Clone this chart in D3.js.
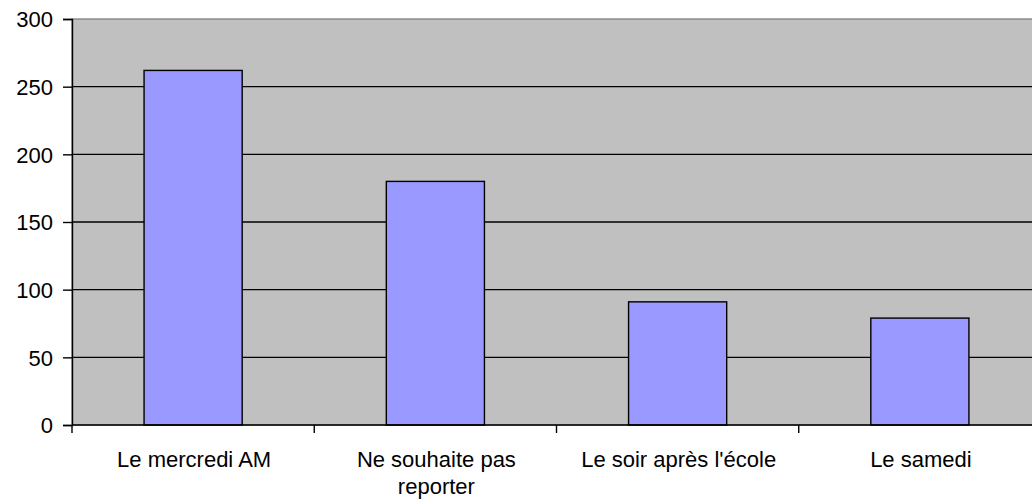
<!DOCTYPE html>
<html>
<head>
<meta charset="utf-8">
<script src="https://cdn.jsdelivr.net/npm/d3@7"></script>
<style>
  body { margin: 0; background: #fff; }
  text { font-family: "Liberation Sans", Arial, sans-serif; fill: #000; }
</style>
</head>
<body>
<script>
const categories = ["Le mercredi AM", "Ne souhaite pas reporter", "Le soir après l'école", "Le samedi"];
const values = [262, 180, 91, 79];
const yTicks = [0, 50, 100, 150, 200, 250, 300];

const width = 1032, height = 502;
const margin = { top: 19, left: 72, bottom: 77 };
const plotRight = 1041;  // the plot area runs a little past the window edge
const fontSize = 22;

const svg = d3.select("body").append("svg")
    .attr("width", width)
    .attr("height", height);

const x = d3.scaleBand()
    .domain(categories)
    .range([margin.left, plotRight])
    .padding(0);

const y = d3.scaleLinear()
    .domain([0, 300])
    .range([height - margin.bottom, margin.top]);

const barWidth = x.bandwidth() * 0.405;

// plot background
svg.append("rect")
    .attr("x", margin.left)
    .attr("y", y(300))
    .attr("width", plotRight - margin.left)
    .attr("height", y(0) - y(300))
    .attr("fill", "#c0c0c0")
    .attr("stroke", "#808080")
    .attr("stroke-width", 1.3);

// gridlines
svg.append("g")
  .selectAll("line")
  .data(yTicks.filter(d => d > 0 && d < 300))
  .enter().append("line")
    .attr("x1", margin.left)
    .attr("x2", plotRight)
    .attr("y1", d => y(d))
    .attr("y2", d => y(d))
    .attr("stroke", "#000")
    .attr("stroke-width", 1.3);

// bars
svg.append("g")
  .selectAll("rect")
  .data(categories.map((c, i) => ({ c, v: values[i] })))
  .enter().append("rect")
    .attr("x", d => x(d.c) + x.bandwidth() / 2 - barWidth / 2)
    .attr("y", d => y(d.v))
    .attr("width", barWidth)
    .attr("height", d => y(0) - y(d.v))
    .attr("fill", "#9999ff")
    .attr("stroke", "#000")
    .attr("stroke-width", 1.4);

// y axis
let yAxis = svg.append("g")
    .attr("transform", `translate(${margin.left},0)`)
    .call(d3.axisLeft(y).tickValues(yTicks).tickSize(9).tickPadding(10));
yAxis.selectAll("text").style("font-size", fontSize + "px").attr("dy", "0.36em");
yAxis.select(".domain").attr("stroke-width", 1.4);
yAxis.selectAll(".tick line").attr("stroke-width", 1.4);

// x axis line and ticks at band boundaries
let xAxis = svg.append("g")
    .attr("transform", `translate(0,${y(0)})`);
xAxis.append("line")
    .attr("x1", margin.left)
    .attr("x2", plotRight)
    .attr("stroke", "#000")
    .attr("stroke-width", 1.4);
xAxis.selectAll(".xtick")
  .data(categories)
  .enter().append("line")
    .attr("class", "xtick")
    .attr("x1", d => x(d))
    .attr("x2", d => x(d))
    .attr("y1", 0)
    .attr("y2", 8)
    .attr("stroke", "#000")
    .attr("stroke-width", 1.4);

// category labels, wrapped like the original
function wrap(label, maxWidth) {
  let words = label.split(" ");
  let lines = [];
  let line = [];
  let probe = svg.append("text").style("font-size", fontSize + "px");
  for (let w of words) {
    line.push(w);
    probe.text(line.join(" "));
    if (probe.node().getComputedTextLength() > maxWidth && line.length > 1) {
      line.pop();
      lines.push(line.join(" "));
      line = [w];
    }
  }
  lines.push(line.join(" "));
  probe.remove();
  return lines;
}

let labels = xAxis.selectAll(".xlabel")
  .data(categories)
  .enter().append("text")
    .attr("class", "xlabel")
    .attr("text-anchor", "middle")
    .style("font-size", fontSize + "px")
    .attr("transform", d => `translate(${x(d) + x.bandwidth() / 2 + 1},42)`);

labels.each(function(d) {
  let lines = wrap(d, 215);
  d3.select(this).selectAll("tspan")
    .data(lines)
    .enter().append("tspan")
      .attr("x", 0)
      .attr("y", (l, i) => i * 27)
      .text(l => l);
});
</script>
</body>
</html>
